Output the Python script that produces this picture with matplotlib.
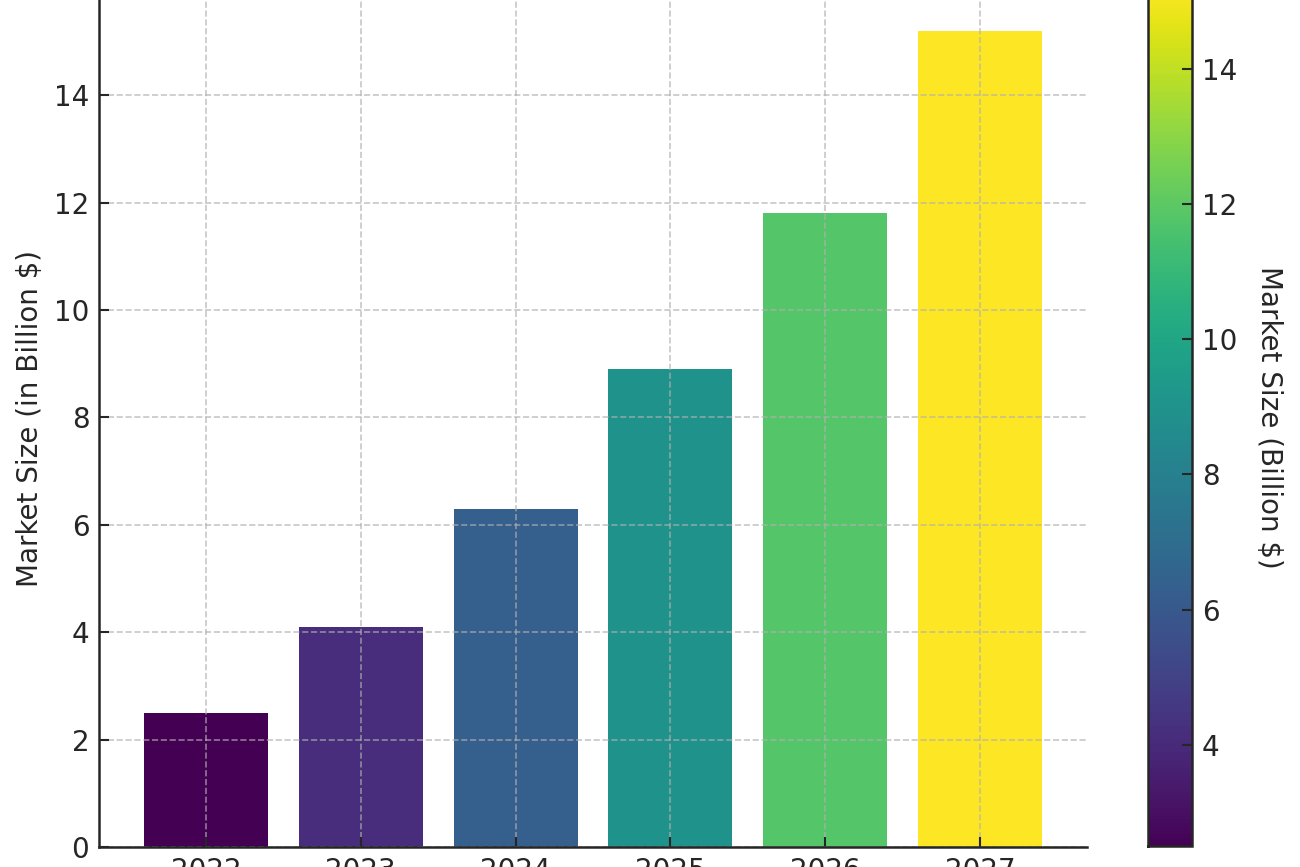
import numpy as np
import matplotlib
matplotlib.use("Agg")
from matplotlib import pyplot as plt
from matplotlib import cm, colors

years = ["2022", "2023", "2024", "2025", "2026", "2027"]
market_size = [2.5, 4.1, 6.3, 8.9, 11.8, 15.2]

plt.rcParams["font.family"] = "DejaVu Sans"
plt.rcParams["text.color"] = "#262626"
plt.rcParams["axes.labelcolor"] = "#262626"
plt.rcParams["xtick.color"] = "#262626"
plt.rcParams["ytick.color"] = "#262626"

if __name__ == "__main__":
    fig = plt.figure(figsize=(13, 8.67), dpi=100)
    # the picture is a crop: axes run past the top and bottom edges
    ax = fig.add_axes([99 / 1300, 20 / 867, 988 / 1300, 857 / 867])
    cax = fig.add_axes([1148 / 1300, 21 / 867, 44 / 1300, 858 / 867])

    norm = colors.Normalize(vmin=min(market_size), vmax=max(market_size))
    cmap = plt.get_cmap("viridis")
    bar_colors = cmap(norm(np.array(market_size)))

    ax.bar(years, market_size, color=bar_colors, width=0.8)
    ax.grid(True, linestyle="--", alpha=0.7, linewidth=1.2)
    ax.set_ylabel("Market Size (in Billion $)", fontsize=20, labelpad=7)
    ax.tick_params(axis="both", direction="in", length=7, width=1.5, labelsize=20, pad=7)
    for s in ["top", "right"]:
        ax.spines[s].set_visible(False)
    for s in ["left", "bottom"]:
        ax.spines[s].set_linewidth(1.8)
        ax.spines[s].set_color("#262626")

    sm = cm.ScalarMappable(cmap=cmap, norm=norm)
    sm.set_array([])
    cbar = fig.colorbar(sm, cax=cax)
    cbar.outline.set_linewidth(1.8)
    cbar.outline.set_edgecolor("#262626")
    cbar.ax.tick_params(direction="in", length=7, width=1.5, labelsize=20, pad=7)
    cbar.set_label("Market Size (Billion $)", rotation=270, fontsize=20, labelpad=33)

    fig.savefig("out.png", dpi=100)
